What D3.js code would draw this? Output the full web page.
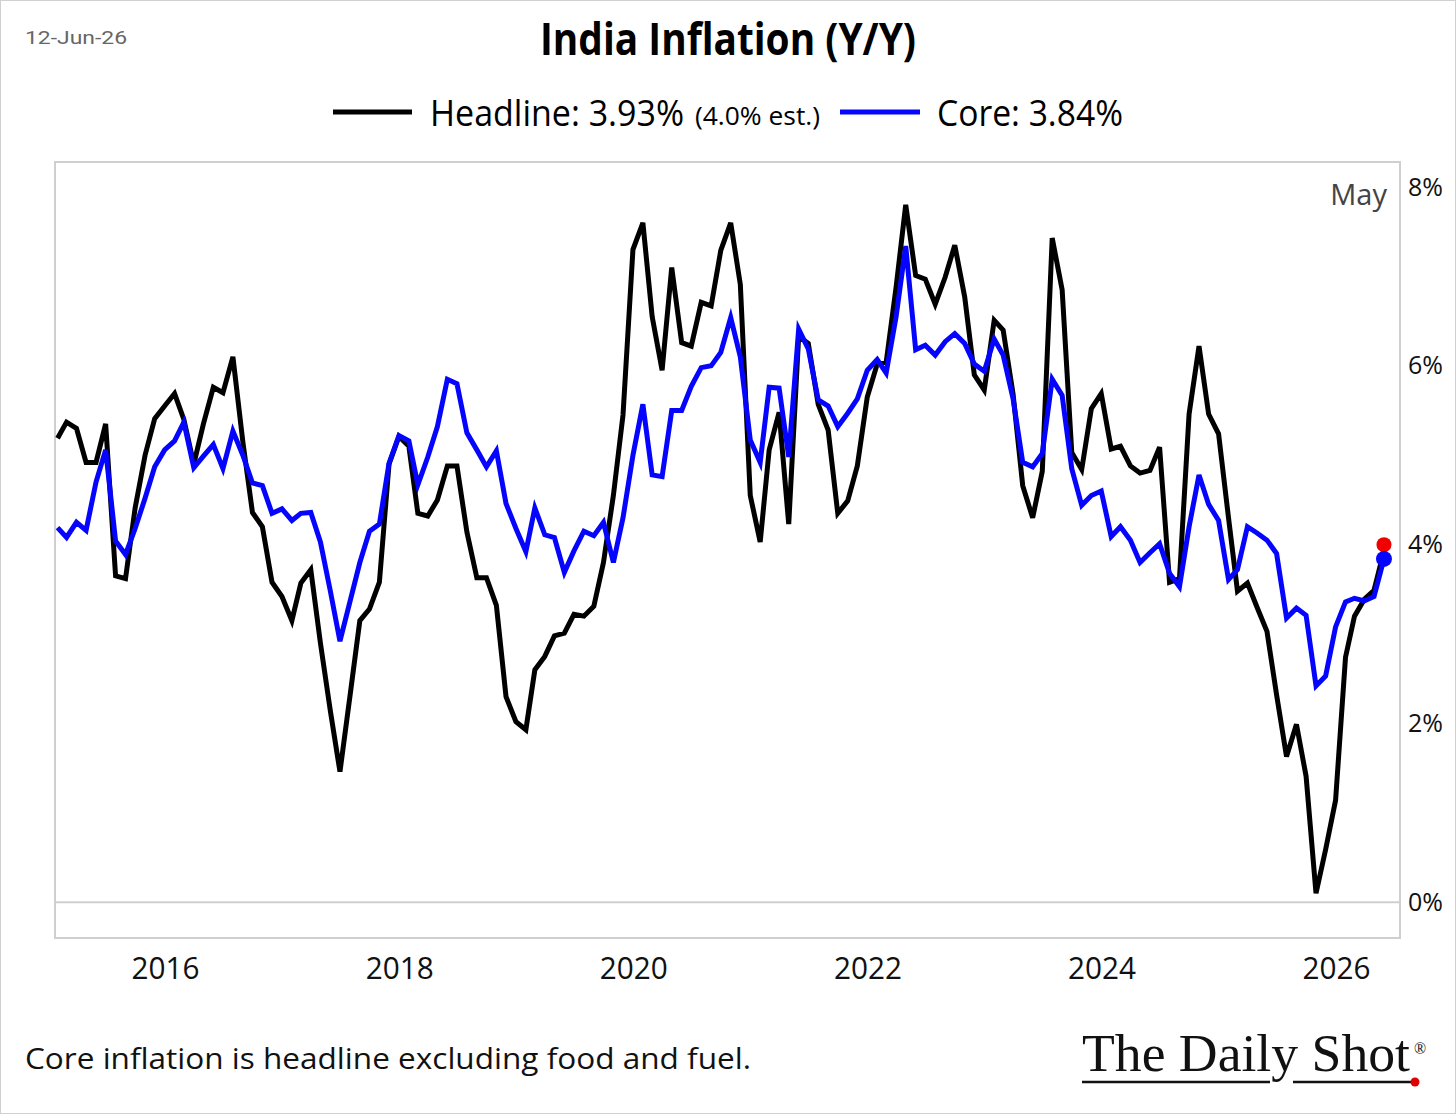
<!DOCTYPE html>
<html>
<head>
<meta charset="utf-8">
<script src="https://cdn.jsdelivr.net/npm/d3@7/dist/d3.min.js"></script>
<style>
  body { margin: 0; background: #fff; }
  svg { display: block; }
</style>
</head>
<body>
<svg id="chart" width="1456" height="1114"></svg>
<script>
// canvas size and plot frame
const w = 1456;
const h = 1114;
const frame = { left: 55, right: 1400, top: 162, bottom: 938 };

// monthly data, Jan 2015 .. May 2026 (y/y %)
const firstMonth = [2015, 0];
const headline = [
  5.19, 5.37, 5.30, 4.92, 4.92, 5.35, 3.65, 3.62, 4.41, 5.00, 5.41, 5.55,
  5.69, 5.40, 4.90, 5.35, 5.76, 5.70, 6.10, 5.15, 4.36, 4.20, 3.58, 3.42,
  3.15, 3.57, 3.72, 2.90, 2.14, 1.46, 2.30, 3.15, 3.28, 3.58, 4.90, 5.21,
  5.10, 4.35, 4.32, 4.50, 4.88, 4.88, 4.14, 3.63, 3.63, 3.32, 2.30, 2.02,
  1.93, 2.60, 2.75, 2.98, 3.01, 3.22, 3.20, 3.31, 3.80, 4.55, 5.45, 7.30,
  7.60, 6.55, 5.95, 7.10, 6.26, 6.22, 6.71, 6.67, 7.29, 7.60, 6.91, 4.55,
  4.03, 5.06, 5.48, 4.23, 6.33, 6.25, 5.57, 5.28, 4.35, 4.49, 4.88, 5.65,
  6.02, 6.04, 6.88, 7.80, 7.01, 6.97, 6.69, 6.99, 7.35, 6.77, 5.90, 5.73,
  6.51, 6.40, 5.68, 4.66, 4.30, 4.82, 7.43, 6.85, 5.03, 4.84, 5.52, 5.69,
  5.07, 5.10, 4.88, 4.80, 4.83, 5.09, 3.58, 3.62, 5.46, 6.22, 5.46, 5.24,
  4.30, 3.48, 3.57, 3.30, 3.03, 2.32, 1.63, 1.99, 1.41, 0.10, 0.59, 1.14,
  2.74, 3.20, 3.39, 3.49, 3.93
];
const core = [
  4.19, 4.08, 4.25, 4.16, 4.70, 5.06, 4.04, 3.89, 4.18, 4.52, 4.87, 5.06,
  5.16, 5.37, 4.86, 4.99, 5.12, 4.85, 5.27, 5.00, 4.69, 4.66, 4.35, 4.40,
  4.27, 4.35, 4.36, 4.03, 3.48, 2.92, 3.36, 3.80, 4.15, 4.23, 4.91, 5.22,
  5.16, 4.67, 4.98, 5.32, 5.85, 5.80, 5.25, 5.06, 4.87, 5.05, 4.46, 4.18,
  3.92, 4.41, 4.11, 4.08, 3.69, 3.93, 4.15, 4.10, 4.25, 3.80, 4.30, 5.00,
  5.57, 4.78, 4.76, 5.50, 5.50, 5.77, 5.98, 6.00, 6.15, 6.54, 6.10, 5.17,
  4.92, 5.76, 5.75, 4.98, 6.41, 6.19, 5.62, 5.55, 5.32, 5.47, 5.63, 5.95,
  6.07, 5.92, 6.55, 7.34, 6.18, 6.23, 6.12, 6.27, 6.36, 6.25, 6.02, 5.94,
  6.30, 6.12, 5.63, 4.92, 4.87, 5.02, 5.85, 5.67, 4.85, 4.44, 4.55, 4.60,
  4.09, 4.20, 4.05, 3.80, 3.91, 4.01, 3.68, 3.53, 4.20, 4.78, 4.45, 4.27,
  3.61, 3.72, 4.20, 4.13, 4.05, 3.90, 3.18, 3.29, 3.21, 2.42, 2.53, 3.08,
  3.36, 3.40, 3.37, 3.42, 3.84
];
const headlineEst = 4.0;

const yTicks = [0, 2, 4, 6, 8];
const xTickYears = [2016, 2018, 2020, 2022, 2024, 2026];

// points sit at month end
const monthEnd = (i) => new Date(Date.UTC(firstMonth[0], firstMonth[1] + i + 1, 0));
const headlineData = headline.map((v, i) => ({ date: monthEnd(i), value: v }));
const coreData = core.map((v, i) => ({ date: monthEnd(i), value: v }));

const svg = d3.select("#chart");

// squeeze text to a width (the original uses a condensed face)
function fit(sel, width) {
  sel.attr("textLength", width).attr("lengthAdjust", "spacingAndGlyphs");
}

// outer border
svg.append("rect")
  .attr("x", 0.5).attr("y", 0.5)
  .attr("width", w - 1).attr("height", h - 1)
  .attr("fill", "#fff").attr("stroke", "#d0d0d0");

// scales
const xScale = d3.scaleUtc()
  .domain([new Date(Date.UTC(2015, 0, 23)), new Date(Date.UTC(2026, 6, 20))])
  .range([frame.left, frame.right]);

const yScale = d3.scaleLinear()
  .domain([-0.4, 8.28])
  .range([frame.bottom, frame.top]);

// plot frame
svg.append("rect")
  .attr("x", frame.left).attr("y", frame.top)
  .attr("width", frame.right - frame.left)
  .attr("height", frame.bottom - frame.top)
  .attr("fill", "none")
  .attr("stroke", "#cfcfcf")
  .attr("stroke-width", 2);

// zero line
svg.append("line")
  .attr("x1", frame.left).attr("x2", frame.right)
  .attr("y1", yScale(0)).attr("y2", yScale(0))
  .attr("stroke", "#cfcfcf")
  .attr("stroke-width", 2);

// axes
const xAxis = d3.axisBottom(xScale)
  .tickValues(xTickYears.map(y => new Date(Date.UTC(y, 0, 1))))
  .tickFormat(d3.utcFormat("%Y"))
  .tickSize(0)
  .tickPadding(0);

const gx = svg.append("g")
  .attr("transform", "translate(0," + frame.bottom + ")")
  .call(xAxis);
gx.select(".domain").remove();
gx.selectAll("text")
  .attr("y", 41)
  .attr("dy", null)
  .attr("fill", "#111")
  .style("font-family", "'Open Sans', sans-serif")
  .style("font-size", "31px")
  .call(fit, 68);

const yAxis = d3.axisRight(yScale)
  .tickValues(yTicks)
  .tickFormat(d => d + "%")
  .tickSize(0)
  .tickPadding(8);

const gy = svg.append("g")
  .attr("transform", "translate(" + frame.right + ",0)")
  .call(yAxis);
gy.select(".domain").remove();
gy.selectAll("text")
  .attr("fill", "#111")
  .style("font-family", "'Open Sans', sans-serif")
  .style("font-size", "25px");

// lines
const line = d3.line()
  .x(d => xScale(d.date))
  .y(d => yScale(d.value));

svg.append("path")
  .datum(headlineData)
  .attr("d", line)
  .attr("fill", "none")
  .attr("stroke", "#000")
  .attr("stroke-width", 5)
  .attr("stroke-linejoin", "miter");

svg.append("path")
  .datum(coreData)
  .attr("d", line)
  .attr("fill", "none")
  .attr("stroke", "#0505ff")
  .attr("stroke-width", 5)
  .attr("stroke-linejoin", "miter");

// end markers: estimate (red) under latest core (blue)
const last = headlineData[headlineData.length - 1];
svg.append("circle")
  .attr("cx", xScale(last.date))
  .attr("cy", yScale(headlineEst))
  .attr("r", 7.5)
  .attr("fill", "#f00000");

const lastCore = coreData[coreData.length - 1];
svg.append("circle")
  .attr("cx", xScale(lastCore.date))
  .attr("cy", yScale(lastCore.value))
  .attr("r", 8)
  .attr("fill", "#0505ff");

// "May" label
svg.append("text")
  .attr("x", 1387).attr("y", 205)
  .attr("text-anchor", "end")
  .attr("fill", "#444")
  .style("font-family", "'Open Sans', sans-serif")
  .style("font-size", "29px")
  .text("May");

// date stamp
svg.append("text")
  .attr("x", 25).attr("y", 44)
  .attr("fill", "#666")
  .style("font-family", "Roboto, sans-serif")
  .style("font-size", "19px")
  .text("12-Jun-26")
  .call(fit, 102);

// title
svg.append("text")
  .attr("x", 728).attr("y", 55)
  .attr("text-anchor", "middle")
  .attr("fill", "#000")
  .style("font-family", "'Open Sans', sans-serif")
  .style("font-weight", "700")
  .style("font-size", "45px")
  .text("India Inflation (Y/Y)")
  .call(fit, 376);

// legend
const legend = svg.append("g");
legend.append("line")
  .attr("x1", 333).attr("x2", 412).attr("y1", 112).attr("y2", 112)
  .attr("stroke", "#000").attr("stroke-width", 5);
legend.append("text")
  .attr("x", 430).attr("y", 126)
  .style("font-family", "'Open Sans', sans-serif")
  .style("font-size", "37px")
  .text("Headline: 3.93%")
  .call(fit, 254);
legend.append("text")
  .attr("x", 695).attr("y", 125)
  .style("font-family", "'Open Sans', sans-serif")
  .style("font-size", "26px")
  .text("(4.0% est.)")
  .call(fit, 125);
legend.append("line")
  .attr("x1", 840).attr("x2", 920).attr("y1", 112).attr("y2", 112)
  .attr("stroke", "#0505ff").attr("stroke-width", 5);
legend.append("text")
  .attr("x", 937).attr("y", 126)
  .style("font-family", "'Open Sans', sans-serif")
  .style("font-size", "37px")
  .text("Core: 3.84%")
  .call(fit, 186);

// footnote
svg.append("text")
  .attr("x", 25).attr("y", 1069)
  .attr("fill", "#111")
  .style("font-family", "'Open Sans', sans-serif")
  .style("font-size", "29px")
  .text("Core inflation is headline excluding food and fuel.")
  .call(fit, 726);

// logo
const logo = svg.append("g");
logo.append("text")
  .attr("x", 1082).attr("y", 1071)
  .attr("fill", "#111")
  .style("font-family", "'Liberation Serif', 'DejaVu Serif', serif")
  .style("font-size", "52px")
  .text("The Daily Shot")
  .call(fit, 328);
logo.append("text")
  .attr("x", 1414).attr("y", 1054)
  .attr("fill", "#111")
  .style("font-family", "'Liberation Serif', serif")
  .style("font-size", "16px")
  .text("®");
logo.append("line")
  .attr("x1", 1082).attr("x2", 1270).attr("y1", 1082).attr("y2", 1082)
  .attr("stroke", "#111").attr("stroke-width", 2.5);
logo.append("line")
  .attr("x1", 1293).attr("x2", 1412).attr("y1", 1082).attr("y2", 1082)
  .attr("stroke", "#111").attr("stroke-width", 2.5);
logo.append("circle")
  .attr("cx", 1415).attr("cy", 1082).attr("r", 4.5)
  .attr("fill", "#e00000");
</script>
</body>
</html>
